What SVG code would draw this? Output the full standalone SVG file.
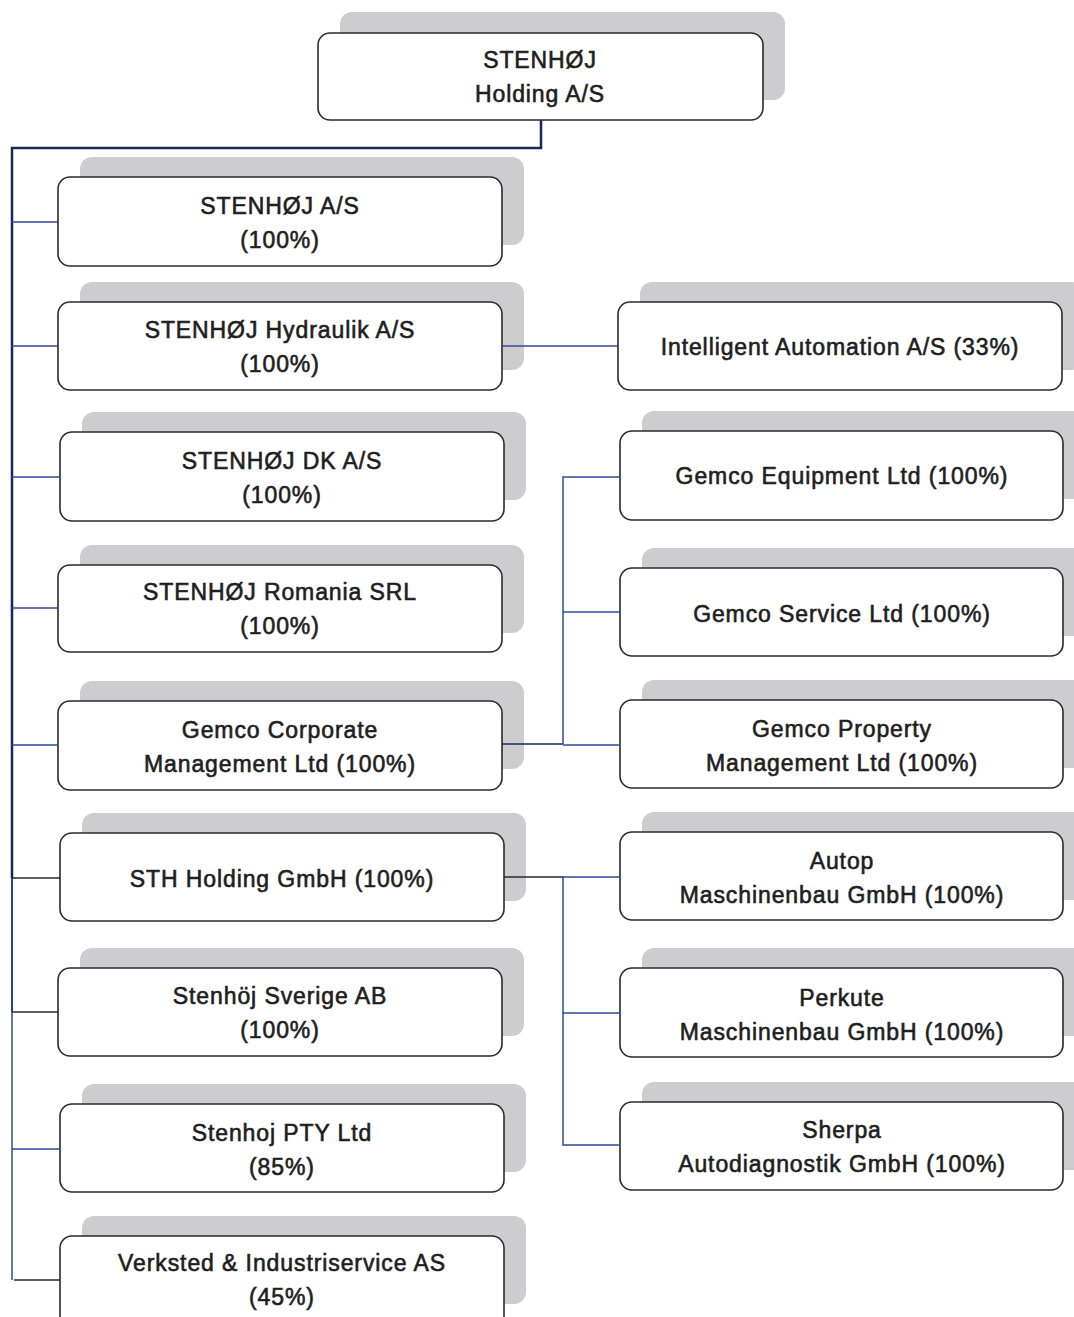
<svg xmlns="http://www.w3.org/2000/svg" width="1074" height="1317" viewBox="0 0 1074 1317">
<style>
.sh{fill:#cdcdcf}
.bx{fill:#fff;stroke:#2a2a2a;stroke-width:1.6}
.t{font-family:"Liberation Sans",Arial,sans-serif;font-size:23px;letter-spacing:0.9px;fill:#1e1e1e;text-anchor:middle;stroke:#1e1e1e;stroke-width:0.6}
.c{fill:none;stroke:#2c4aa0;stroke-width:1.5}
.d{fill:none;stroke:#2a2a2a;stroke-width:1.6}
.k{fill:none;stroke:#1a2560;stroke-width:2.5}
</style>
<rect width="1074" height="1317" fill="#fff"/>
<g id="n0"><rect class="sh" x="340" y="12" width="445" height="88" rx="12"/><rect class="bx" x="318" y="33" width="445" height="87" rx="12"/><text class="t" x="540" y="68">STENHØJ</text><text class="t" x="540" y="102">Holding A/S</text></g>
<g id="n1"><rect class="sh" x="80" y="157" width="444" height="88" rx="12"/><rect class="bx" x="58" y="177" width="444" height="89" rx="12"/><text class="t" x="280" y="214">STENHØJ A/S</text><text class="t" x="280" y="248">(100%)</text></g>
<g id="n2"><rect class="sh" x="80" y="282" width="444" height="88" rx="12"/><rect class="bx" x="58" y="302" width="444" height="88" rx="12"/><text class="t" x="280" y="338">STENHØJ Hydraulik A/S</text><text class="t" x="280" y="372">(100%)</text></g>
<g id="n3"><rect class="sh" x="82" y="412" width="444" height="88" rx="12"/><rect class="bx" x="60" y="432" width="444" height="89" rx="12"/><text class="t" x="282" y="469">STENHØJ DK A/S</text><text class="t" x="282" y="503">(100%)</text></g>
<g id="n4"><rect class="sh" x="80" y="545" width="444" height="88" rx="12"/><rect class="bx" x="58" y="565" width="444" height="87" rx="12"/><text class="t" x="280" y="600">STENHØJ Romania SRL</text><text class="t" x="280" y="634">(100%)</text></g>
<g id="n5"><rect class="sh" x="80" y="681" width="444" height="88" rx="12"/><rect class="bx" x="58" y="701" width="444" height="89" rx="12"/><text class="t" x="280" y="738">Gemco Corporate</text><text class="t" x="280" y="772">Management Ltd (100%)</text></g>
<g id="n6"><rect class="sh" x="82" y="813" width="444" height="88" rx="12"/><rect class="bx" x="60" y="833" width="444" height="88" rx="12"/><text class="t" x="282" y="887">STH Holding GmbH (100%)</text></g>
<g id="n7"><rect class="sh" x="80" y="948" width="444" height="88" rx="12"/><rect class="bx" x="58" y="968" width="444" height="88" rx="12"/><text class="t" x="280" y="1004">Stenhöj Sverige AB</text><text class="t" x="280" y="1038">(100%)</text></g>
<g id="n8"><rect class="sh" x="82" y="1084" width="444" height="88" rx="12"/><rect class="bx" x="60" y="1104" width="444" height="88" rx="12"/><text class="t" x="282" y="1141">Stenhoj PTY Ltd</text><text class="t" x="282" y="1175">(85%)</text></g>
<g id="n9"><rect class="sh" x="82" y="1216" width="444" height="88" rx="12"/><rect class="bx" x="60" y="1236" width="444" height="100" rx="12"/><text class="t" x="282" y="1271">Verksted &amp; Industriservice AS</text><text class="t" x="282" y="1305">(45%)</text></g>
<g id="n10"><rect class="sh" x="640" y="282" width="444" height="88" rx="12"/><rect class="bx" x="618" y="302" width="444" height="88" rx="12"/><text class="t" x="840" y="355">Intelligent Automation A/S (33%)</text></g>
<g id="n11"><rect class="sh" x="642" y="411" width="444" height="88" rx="12"/><rect class="bx" x="620" y="431" width="443" height="89" rx="12"/><text class="t" x="842" y="484">Gemco Equipment Ltd (100%)</text></g>
<g id="n12"><rect class="sh" x="642" y="548" width="444" height="88" rx="12"/><rect class="bx" x="620" y="568" width="443" height="88" rx="12"/><text class="t" x="842" y="622">Gemco Service Ltd (100%)</text></g>
<g id="n13"><rect class="sh" x="642" y="680" width="444" height="88" rx="12"/><rect class="bx" x="620" y="700" width="443" height="88" rx="12"/><text class="t" x="842" y="737">Gemco Property</text><text class="t" x="842" y="771">Management Ltd (100%)</text></g>
<g id="n14"><rect class="sh" x="642" y="812" width="444" height="88" rx="12"/><rect class="bx" x="620" y="832" width="443" height="88" rx="12"/><text class="t" x="842" y="869">Autop</text><text class="t" x="842" y="903">Maschinenbau GmbH (100%)</text></g>
<g id="n15"><rect class="sh" x="642" y="948" width="444" height="88" rx="12"/><rect class="bx" x="620" y="968" width="443" height="89" rx="12"/><text class="t" x="842" y="1006">Perkute</text><text class="t" x="842" y="1040">Maschinenbau GmbH (100%)</text></g>
<g id="n16"><rect class="sh" x="642" y="1082" width="444" height="88" rx="12"/><rect class="bx" x="620" y="1102" width="443" height="88" rx="12"/><text class="t" x="842" y="1138">Sherpa</text><text class="t" x="842" y="1172">Autodiagnostik GmbH (100%)</text></g>
<g id="connectors">
<path class="k" d="M541 120 V148 H12 V878"/>
<path class="c" style="stroke:#2a3f9a;stroke-width:2" d="M12 878 V1012"/>
<path class="c" d="M12 1012 V1280"/>
<path class="c" d="M12 222 H58 M12 346 H58 M12 477 H60 M12 608 H58 M12 745 H58 M12 1149 H60"/>
<path class="d" d="M12 878 H60 M12 1012 H58 M14 1280 H60"/>
<path class="c" d="M502 346 H618"/>
<path class="k" style="stroke-width:1.6" d="M502 744 H563"/>
<path class="c" d="M563 744 V477 H620 M563 612 H620 M563 745 H620"/>
<path class="d" d="M504 877 H563"/>
<path class="c" d="M563 877 H620 M563 877 V1145 H620 M563 1013 H620"/>
</g>
</svg>
